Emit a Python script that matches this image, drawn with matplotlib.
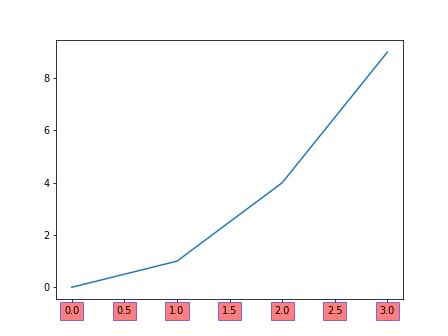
import matplotlib
matplotlib.use("Agg")
import matplotlib.pyplot as plt

x = [0, 1, 2, 3]
y = [0, 1, 4, 9]

fig, ax = plt.subplots(figsize=(6.4, 4.8), dpi=70)
ax.plot(x, y)

# boxed x tick labels
for label in ax.get_xticklabels():
    label.set_bbox(dict(facecolor="red", edgecolor="blue", alpha=0.5))

fig.savefig("out.png")
